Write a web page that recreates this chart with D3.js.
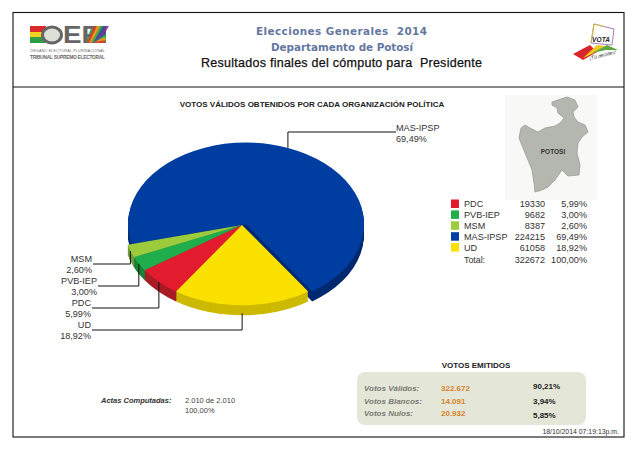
<!DOCTYPE html>
<html>
<head>
<meta charset="utf-8">
<style>
  body { margin: 0; background: #fff; }
  svg { display: block; }
  text { font-family: "Liberation Sans", Arial, sans-serif; }
</style>
</head>
<body>
<svg id="chart" width="638" height="451"></svg>
<script src="https://cdn.jsdelivr.net/npm/d3@7"></script>
<script>
// Data
const parties = ['PDC', 'PVB-IEP', 'MSM', 'MAS-IPSP', 'UD'];
const votes = [19330, 9682, 8387, 224215, 61058];
const shares = ['5,99%', '3,00%', '2,60%', '69,49%', '18,92%'];
const colors = ['#E31B2F', '#1FAE4B', '#9CCB3B', '#003DA0', '#FAE100'];
const sideColors = ['#A81C26', '#178238', '#76993A', '#002A70', '#CDB900'];
const totalVotes = '322672';
const totalShare = '100,00%';
const emittedLabels = ['Votos Válidos:', 'Votos Blancos:', 'Votos Nulos:'];
const emittedCounts = ['322.672', '14.091', '20.932'];
const emittedShares = ['90,21%', '3,94%', '5,85%'];

const svg = d3.select('#chart');
const toRad = Math.PI / 180;

function label(x, y, str, size, fill, opts = {}) {
    return svg.append('text')
        .attr('x', x).attr('y', y)
        .attr('font-size', size)
        .attr('fill', fill)
        .attr('font-weight', opts.weight || 'normal')
        .attr('font-style', opts.style || 'normal')
        .attr('text-anchor', opts.anchor || 'start')
        .attr('style', opts.family ? `font-family:${opts.family}` : null)
        .attr('textLength', opts.length || null)
        .text(str);
}

// --- Frame ---
svg.append('rect').attr('x', 13).attr('y', 12.5).attr('width', 611).attr('height', 424.5)
    .attr('fill', 'none').attr('stroke', '#111').attr('stroke-width', 1.1);
svg.append('line').attr('x1', 13).attr('x2', 624).attr('y1', 87).attr('y2', 87)
    .attr('stroke', '#111').attr('stroke-width', 1);

// --- Header ---
const headFont = '"DejaVu Sans", Verdana, sans-serif';
label(256, 35, 'Elecciones Generales  2014', 10.4, '#64779F', { weight: 'bold', family: headFont, length: 171 }).attr('xml:space', 'preserve');
label(271, 51, 'Departamento de Potosí', 10.4, '#64779F', { weight: 'bold', family: headFont, length: 142 });
label(201, 67, 'Resultados finales del cómputo para  Presidente', 12.5, '#111', { length: 281 })
    .attr('xml:space', 'preserve').attr('stroke', '#111').attr('stroke-width', 0.25);

// OEP logo
const logo = svg.append('g');
logo.append('rect').attr('x', 30).attr('y', 26).attr('width', 16).attr('height', 6).attr('fill', '#D92B2B');
logo.append('rect').attr('x', 30).attr('y', 32).attr('width', 16).attr('height', 5).attr('fill', '#F2D21F');
logo.append('rect').attr('x', 30).attr('y', 37).attr('width', 16).attr('height', 6).attr('fill', '#2E9E45');
logo.append('ellipse').attr('cx', 52).attr('cy', 35).attr('rx', 9.5).attr('ry', 8).attr('fill', '#DDE0D8').attr('stroke', '#666').attr('stroke-width', 3);
logo.append('path').attr('d', 'M92,26 L106,26 L106,43 L85,43 Z').attr('fill', '#3AA648');
logo.append('text').attr('x', 63).attr('y', 43).attr('font-size', 24).attr('font-weight', 'bold').attr('fill', '#666')
    .attr('textLength', 37).attr('lengthAdjust', 'spacingAndGlyphs').text('EP');
[['#E0392B', 0], ['#F0A020', 1], ['#3AA648', 2], ['#2E4FA0', 3], ['#8A2E9A', 4]].forEach(([c, i]) => {
    logo.append('path').attr('d', `M${106 - (4 - i) * 3},26 l3,0 l${(4 - i) * 3 - 3 + 0},${17 - i * 3} l-${19 - i * 2},${i * 3} z`).attr('fill', c).attr('opacity', 0.9);
});
logo.append('text').attr('x', 30).attr('y', 52).attr('font-size', 3.6).attr('fill', '#666').attr('textLength', 75).text('ÓRGANO ELECTORAL PLURINACIONAL');
logo.append('text').attr('x', 30).attr('y', 59).attr('font-size', 4.8).attr('font-weight', 'bold').attr('fill', '#666').attr('textLength', 75).text('TRIBUNAL SUPREMO ELECTORAL');

// VOTA logo
const vota = svg.append('g');
vota.append('path').attr('d', 'M594,24 L614,29 L612,45 L591,43 Z').attr('fill', '#fff').attr('stroke', '#8A5BA6').attr('stroke-width', 0.8);
vota.append('path').attr('d', 'M591,43 L594,24 L604,26.5').attr('fill', 'none').attr('stroke', '#D8C020').attr('stroke-width', 0.9);
vota.append('text').attr('x', 592).attr('y', 42).attr('font-size', 6.5).attr('font-weight', 'bold').attr('font-style', 'italic').attr('fill', '#222').attr('textLength', 18).text('VOTA');
vota.append('path').attr('d', 'M573,54 L590,45 L597,52 L583,60 Z').attr('fill', '#D8262C');
vota.append('path').attr('d', 'M583,58 L597,45 L605,46 L592,54 Z').attr('fill', '#F2C81E');
vota.append('path').attr('d', 'M592,53 L607,45 L618,50 L606,50 Z').attr('fill', '#5FA83E');
vota.append('text').attr('x', 590).attr('y', 60).attr('font-size', 5).attr('font-style', 'italic').attr('fill', '#333')
    .attr('textLength', 27).attr('transform', 'rotate(-14 590 60)').text('¡Tú decides!');

// --- Map ---
svg.append('rect').attr('x', 505).attr('y', 95).attr('width', 92).attr('height', 105).attr('fill', '#F8F8F6');
const mapOutline = [[552, 102], [558, 100], [567, 97], [575, 100], [578, 107], [573, 112], [574, 117], [578, 122], [585, 125], [588, 132], [582, 137], [578, 143], [577, 153], [580, 165], [579, 175], [568, 176], [562, 170], [555, 180], [548, 187], [542, 190], [535, 192], [534, 183], [532, 170], [528, 160], [523, 148], [519, 138], [521, 128], [525, 125], [530, 128], [538, 132], [545, 128], [555, 126], [560, 123], [564, 118], [558, 113], [557, 108], [552, 105]];
svg.append('path').attr('d', d3.line().curve(d3.curveLinearClosed)(mapOutline))
    .attr('fill', '#B4B7B0').attr('stroke', '#9A9D96').attr('stroke-width', 0.8);
label(553, 154, 'POTOSI', 6.5, '#333', { weight: 'bold', anchor: 'middle' });

// --- Pie ---
label(312, 107, 'VOTOS VÁLIDOS OBTENIDOS POR CADA ORGANIZACIÓN POLÍTICA', 8, '#222', { weight: 'bold', anchor: 'middle' });

const startDeg = 214;
const pie = d3.pie().sort(null).value(d => d)
    .startAngle(startDeg * toRad).endAngle((startDeg + 360) * toRad);
const slices = pie(votes);
const radius = 118;
const arc = d3.arc().innerRadius(0).outerRadius(radius);
const rimArc = d3.arc().innerRadius(radius).outerRadius(radius);
const blueIndex = parties.indexOf('MAS-IPSP');

// blue slice sits a little apart from the others
const centerOf = i => i === blueIndex
    ? { x: 246, y: 224, ky: 0.69 }
    : { x: 242, y: 225, ky: 0.68 };
const depth = 10;

// back to front: blue, then the small wedges, yellow last
const drawOrder = [blueIndex, 2, 1, 0, 4];
drawOrder.forEach(i => {
    const c = centerOf(i);
    const g = svg.append('g');
    for (let d = depth; d > 0; d--) {
        g.append('path').attr('d', arc(slices[i]))
            .attr('transform', `translate(${c.x},${c.y + d}) scale(1,${c.ky})`)
            .attr('fill', sideColors[i]);
    }
    g.append('path').attr('d', arc(slices[i]))
        .attr('transform', `translate(${c.x},${c.y}) scale(1,${c.ky})`)
        .attr('fill', colors[i]);
});

// --- Leader lines and pie labels ---
const leftRows = { 'MSM': 0, 'PVB-IEP': 1, 'PDC': 2, 'UD': 3 };
const leftLineEnd = { 'MSM': 93, 'PVB-IEP': 98, 'PDC': 92, 'UD': 92 };
parties.forEach((name, i) => {
    const c = centerOf(i);
    const [rx, ry] = rimArc.centroid(slices[i]);
    const ax = c.x + rx;
    const ay = c.y + ry * c.ky + (name === 'UD' ? depth - 2 : 0);
    let pts;
    if (name === 'MAS-IPSP') {
        pts = [[ax, ay], [ax, 132], [396, 132]];
        label(396, 131, name, 9.1, '#333');
        label(396, 142, shares[i], 9.1, '#333');
    } else {
        const row = leftRows[name];
        const y = 264 + row * 22;
        pts = [[ax, ay], [ax, y], [leftLineEnd[name], y]];
        label(leftLineEnd[name] - 1, y - 2, name, 9.1, '#333', { anchor: 'end' });
        label(leftLineEnd[name] - 1, y + 9, shares[i], 9.1, '#333', { anchor: 'end' });
    }
    svg.append('path').attr('d', d3.line()(pts)).attr('fill', 'none')
        .attr('stroke', '#111').attr('stroke-width', 1);
});

// --- Legend table ---
const legendRow = d3.scaleBand().domain(parties).range([198.5, 253]);
parties.forEach((name, i) => {
    const y = legendRow(name);
    const h = legendRow.bandwidth();
    svg.append('rect').attr('x', 451).attr('y', y + 1).attr('width', 8).attr('height', 8.5).attr('fill', colors[i]);
    label(464, y + h - 2, name, 9.1, '#333');
    label(545, y + h - 2, votes[i], 9.1, '#333', { anchor: 'end' });
    label(587, y + h - 2, shares[i], 9.1, '#333', { anchor: 'end' });
});
label(464, 263, 'Total:', 8.8, '#333');
label(545, 263, totalVotes, 9.1, '#333', { anchor: 'end' });
label(587, 263, totalShare, 9.1, '#333', { anchor: 'end' });

// --- Votos emitidos panel ---
label(476, 368, 'VOTOS EMITIDOS', 8, '#222', { weight: 'bold', anchor: 'middle' });
svg.append('rect').attr('x', 357).attr('y', 372).attr('width', 229).attr('height', 53)
    .attr('rx', 8).attr('fill', '#E4E7D8');
const emittedY = [391, 404, 416];
const emittedPctY = [389, 404, 418];
emittedLabels.forEach((t, i) => {
    label(364, emittedY[i], t, 8, '#7A7A72', { weight: 'bold', style: 'italic' });
    label(441, emittedY[i], emittedCounts[i], 8, '#D9822B', { weight: 'bold' });
    label(533, emittedPctY[i], emittedShares[i], 8, '#222', { weight: 'bold' });
});

// --- Actas ---
label(101, 403, 'Actas Computadas:', 7.5, '#333', { weight: 'bold', style: 'italic' });
label(185, 403, '2.010 de 2.010', 7.5, '#444');
label(185, 413, '100,00%', 7.5, '#444');

label(619, 434, '18/10/2014 07:19:13p.m.', 6.9, '#333', { anchor: 'end' });
</script>
</body>
</html>
